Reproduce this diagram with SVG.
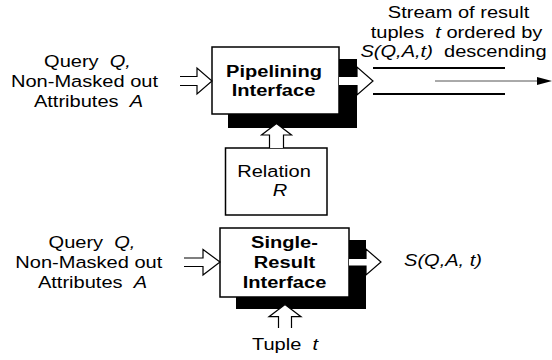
<svg xmlns="http://www.w3.org/2000/svg" width="552" height="360" viewBox="0 0 552 360">
<style>
text{font-family:"Liberation Sans",Arial,sans-serif;font-size:17px;fill:#000;text-anchor:middle}
.b{font-weight:bold}
.i{font-style:italic}
.box{fill:#fff;stroke:#000;stroke-width:1.5}
.shadow{fill:#000}
.hollow{fill:#fff;stroke:#000;stroke-width:1.2;stroke-linejoin:miter}
.line{stroke:#000;stroke-width:2;fill:none}
</style>
<g id="label-query-top">
<text xml:space="preserve" transform="translate(87.5 67) scale(1.18 1)">Query  <tspan class="i">Q</tspan><tspan class="i">,</tspan></text>
<text transform="translate(84.5 87) scale(1.18 1)">Non-Masked out</text>
<text xml:space="preserve" transform="translate(88.5 107) scale(1.18 1)">Attributes  <tspan class="i">A</tspan></text>
</g>
<g id="label-stream">
<text transform="translate(458.5 18) scale(1.18 1)">Stream of result</text>
<text xml:space="preserve" transform="translate(456.5 37.5) scale(1.18 1)">tuples  <tspan class="i">t</tspan> ordered by</text>
<text xml:space="preserve" transform="translate(453.5 57) scale(1.18 1)"><tspan class="i">S(Q,A,t)</tspan>  descending</text>
</g>
<g id="pipelining">
<rect class="shadow" x="228" y="59" width="129" height="69"/>
<rect class="box" x="212" y="47" width="127" height="67"/>
<text class="b" transform="translate(274 76.5) scale(1.18 1)">Pipelining</text>
<text class="b" transform="translate(273.5 95.5) scale(1.18 1)">Interface</text>
</g>
<g id="relation">
<rect class="box" x="225.5" y="148" width="101.5" height="67"/>
<text transform="translate(274 176.5) scale(1.18 1)">Relation</text>
<text class="i" transform="translate(280 195.5) scale(1.18 1)">R</text>
</g>
<g id="label-query-bottom">
<text xml:space="preserve" transform="translate(92 248.3) scale(1.18 1)">Query  <tspan class="i">Q</tspan><tspan class="i">,</tspan></text>
<text transform="translate(88.8 267.5) scale(1.18 1)">Non-Masked out</text>
<text xml:space="preserve" transform="translate(92.5 287.5) scale(1.18 1)">Attributes  <tspan class="i">A</tspan></text>
</g>
<g id="single-result">
<rect class="shadow" x="236" y="240" width="130" height="69"/>
<rect class="box" x="220" y="228" width="129" height="69"/>
<text class="b" transform="translate(284.5 248) scale(1.18 1)">Single-</text>
<text class="b" transform="translate(284.5 268.3) scale(1.18 1)">Result</text>
<text class="b" transform="translate(284.5 288.3) scale(1.18 1)">Interface</text>
</g>
<g id="label-score">
<text class="i" transform="translate(443 266) scale(1.18 1)">S(Q,A, t)</text>
</g>
<g id="label-tuple">
<text xml:space="preserve" transform="translate(285 350) scale(1.18 1)">Tuple  <tspan class="i">t</tspan></text>
</g>
<g id="connectors">
<path class="hollow" d="M180,76.5 H197 V68 L212,81 L197,94 V85.5 H180"/>
<path class="hollow" d="M269.5,148 V135 H261.5 L276.5,123.5 L291.5,135 H283.5 V148"/>
<path class="hollow" d="M339,76.5 H357 V67 L373,81 L357,95 V85.5 H339"/>
<line class="line" x1="373" y1="68" x2="505" y2="68"/>
<line class="line" x1="373" y1="94" x2="505" y2="94"/>
<line x1="435" y1="81" x2="540" y2="81" stroke="#555" stroke-width="1"/>
<polygon points="537,77 552,81 537,85" fill="#000"/>
<path class="hollow" d="M184,258 H203 V249.5 L220,262 L203,275 V266.5 H184"/>
<path class="hollow" d="M349,258.3 H366 V249 L381,262 L366,275 V266 H349"/>
<path class="hollow" d="M278.5,328 V316.7 H269 L285,304.5 L301,316.7 H291.5 V328"/>
</g>
</svg>
